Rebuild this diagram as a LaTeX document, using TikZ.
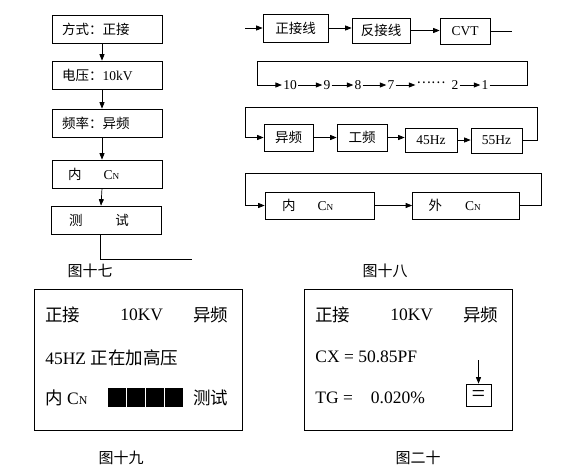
\documentclass[tikz,border=0pt]{standalone}
\usepackage{fontspec}
\setmainfont{Liberation Serif}
\newfontfamily\cjk{Noto Sans CJK SC}
\usepackage{graphicx}
\usepackage{tikz}
\usetikzlibrary{positioning, arrows.meta}

\newcommand{\zh}[1]{{\cjk #1}}
\newcommand{\capn}{C\scalebox{0.68}{N}}
\newcommand{\midfont}{\fontsize{13.5}{15}\selectfont}
\newcommand{\bigfont}{\fontsize{17.5}{20}\selectfont}
\newcommand{\capfont}{\fontsize{15}{17}\selectfont}

\begin{document}
\begin{tikzpicture}[
    x=1pt, y=-1pt, line width=0.7pt,
    arr/.style={-{Triangle[length=6.5pt,width=5pt]}},
    flow/.style={draw, minimum height=28pt, text width=90pt, inner xsep=10pt, align=left, font=\midfont},
    sel/.style 2 args={draw, minimum width=#1, minimum height=#2, inner sep=0pt, font=\midfont},
    num/.style={inner sep=1pt, font=\midfont},
    lcd/.style={anchor=west, inner sep=0pt, font=\bigfont},
    figcap/.style={inner sep=0pt, font=\capfont}
]
\useasboundingbox (0,0) rectangle (565,471);

% figure 17
\node[flow] (m1) at (107,29) {\zh{方式：正接}};
\node[flow] (m2) at (107,75) {\zh{电压：}10kV};
\node[flow] (m3) at (107,123) {\zh{频率：异频}};
\node[flow] (m4) at (107,174) {\hspace{6pt}\zh{内}\hspace{22pt}\capn};
\node[flow] (m5) at (106,220) {\hspace{8pt}\zh{测}\hspace{33pt}\zh{试}};
\coordinate (m5end) at (192,259);
\foreach \a/\b in {m1/m2, m2/m3, m3/m4, m4/m5}
    \draw[arr] ([xshift=-5pt]\a.south) -- ([xshift=-5pt]\b.north);
\draw ([xshift=-6pt]m5.south) |- (m5end);
\node[figcap] (c17) at (90,271) {\zh{图十七}};

% figure 18, wiring
\coordinate (in) at (245,28);
\node[sel={65pt}{28pt}] (z1) at (295.5,28) {\zh{正接线}};
\node[sel={58pt}{25pt}] (z2) at (381,30.5) {\zh{反接线}};
\node[sel={50pt}{26pt}] (z3) at (465,31) {CVT};
\coordinate (z3end) at (512,31);
\draw[arr] (in) -- (z1.west);
\draw[arr] (z1.east) -- (z1.east -| z2.west);
\draw[arr] (z2.east) -- (z2.east -| z3.west);
\draw (z3.east) -- (z3end);

% figure 18, voltage
\node[num] (n10) at (290,85) {10};
\node[num] (n9) at (327,85) {9};
\node[num] (n8) at (358,85) {8};
\node[num] (n7) at (391,85) {7};
\node[num] (dots) at (431,83) {\zh{……}};
\node[num] (n2) at (455,85) {2};
\node[num] (n1) at (485,85) {1};
\coordinate (r2a) at (527,61);
\coordinate (r2b) at (257,61);
\draw[arr] (n1.east) -| (r2a) -- (r2b) |- (n10.west);
\foreach \a/\b in {n10/n9, n9/n8, n8/n7, n7/dots, n2/n1}
    \draw[arr] (\a.east) -- (\a.east -| \b.west);

% figure 18, frequency
\node[sel={49pt}{27pt}] (f1) at (288.5,137.5) {\zh{异频}};
\node[sel={50pt}{27pt}] (f2) at (362,137.5) {\zh{工频}};
\node[sel={52pt}{24pt}] (f3) at (431,140) {45Hz};
\node[sel={51pt}{25pt}] (f4) at (496.5,140.5) {55Hz};
\coordinate (r3a) at (537,107);
\coordinate (r3b) at (245,107);
\draw[arr] (f4.east) -| (r3a) -- (r3b) |- (f1.west);
\foreach \a/\b in {f1/f2, f2/f3, f3/f4}
    \draw[arr] (\a.east) -- (\a.east -| \b.west);

% figure 18, standard capacitor
\node[flow, text width=75pt, inner xsep=17pt, minimum height=27pt] (k1) at (319.5,205.5) {\zh{内}\hspace{22pt}\capn};
\node[flow, text width=75pt, inner xsep=16pt, minimum height=27pt] (k2) at (466,205.5) {\zh{外}\hspace{23pt}\capn};
\coordinate (r4a) at (541,173);
\coordinate (r4b) at (245,173);
\draw[arr] (k1.east) -- (k2.west);
\draw[arr] (k2.east) -| (r4a) -- (r4b) |- (k1.west);
\node[figcap] (c18) at (385,271) {\zh{图十八}};

% figure 19
\draw (34,289) rectangle (242,430);
\node[lcd] (a1) at (45,315) {\zh{正接}};
\node[lcd] (a2) at (120,315) {10KV};
\node[lcd] (a3) at (193,315) {\zh{异频}};
\node[lcd] (a4) at (45,358) {45HZ \zh{正在加高压}};
\node[lcd] (a5) at (45,398) {\zh{内} \capn};
\foreach \i in {0,1,2,3}
    \fill (108+\i*19,388) rectangle +(17.5,19);
\node[lcd] (a6) at (193,398) {\zh{测试}};
\node[figcap] (c19) at (121,458) {\zh{图十九}};

% figure 20
\draw (304,289) rectangle (512,430);
\node[lcd] (b1) at (315,315) {\zh{正接}};
\node[lcd] (b2) at (390,315) {10KV};
\node[lcd] (b3) at (463,315) {\zh{异频}};
\node[lcd] (b4) at (315,357) {CX = 50.85PF};
\node[lcd] (b5) at (315,398) {TG =\hspace{18pt}0.020\%};
\node[sel={25pt}{22pt}, font=\fontsize{24}{24}\selectfont] (eq) at (478.5,395) {\raisebox{-6pt}[0pt][0pt]{=}};
\coordinate (eqtop) at (478.5,360);
\draw[arr] (eqtop) -- (eq.north);
\node[figcap] (c20) at (418,458) {\zh{图二十}};
\end{tikzpicture}
\end{document}
